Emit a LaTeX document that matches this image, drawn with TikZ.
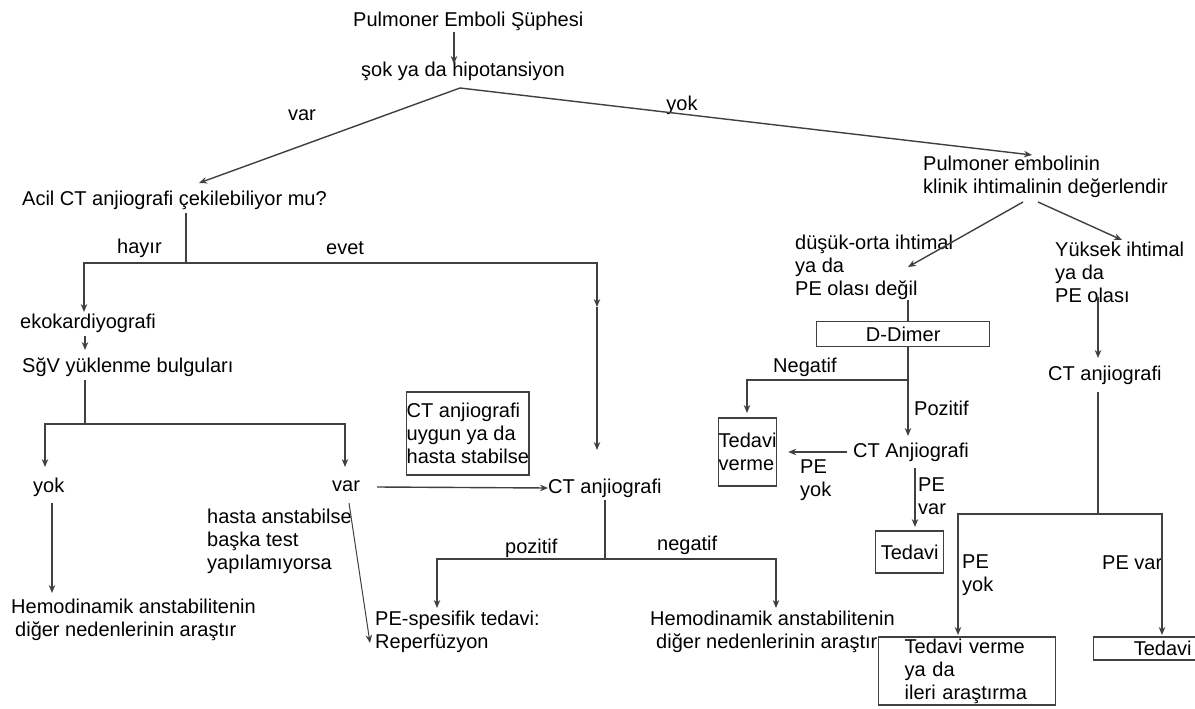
\documentclass[tikz,border=0pt]{standalone}
\usepackage{fontspec}
\setmainfont{Liberation Sans}
\usetikzlibrary{arrows.meta}

\begin{document}
\begin{tikzpicture}[x=1pt, y=-1pt,
    every node/.style={font=\fontsize{20}{23}\selectfont, inner sep=0pt, align=left},
    lbl/.style={anchor=west},
    boxnode/.style={draw=black!75, line width=1.4pt, anchor=west},
    conn/.style={line width=1.4pt, black!75},
    arr/.style={conn, -{Stealth[length=8pt, width=6.5pt]}}]
  \path[fill=white, use as bounding box] (0,0) rectangle (1195,709);

  % suspicion and shock
  \node[lbl] (susp) at (353,21) {Pulmoner Emboli Şüphesi};
  \node[lbl] (shock) at (361,71) {şok ya da hipotansiyon};
  \coordinate (split) at ([shift={(99,17)}]shock.west);
  \node (var) at (302,115) {var};
  \node (yok) at (682,105) {yok};

  % unstable side
  \node[lbl] (acil) at (22,200) {Acil CT anjiografi çekilebiliyor mu?};
  \node[lbl] (hayir) at (117,248) {hayır};
  \node[lbl] (evet) at (326,248) {evet};
  \node[lbl] (eko) at (20,323) {ekokardiyografi};
  \node[lbl] (sgv) at (22,367) {SğV yüklenme bulguları};
  \node[lbl] (sgvyok) at (33,487) {yok};
  \node[lbl] (sgvvar) at (332,486) {var};
  \node[lbl] (hemoL) at (11,620) {Hemodinamik anstabilitenin\\\hspace*{4pt}diğer nedenlerinin araştır};
  \node[lbl] (hasta) at (207,541) {hasta anstabilse\\başka test\\yapılamıyorsa};
  \node[boxnode, minimum width=121pt, minimum height=83pt] (stabil) at (406,433.5) {CT anjiografi\\uygun ya da\\hasta stabilse};
  \node[lbl] (ctmid) at (548,488) {CT anjiografi};
  \node[lbl] (poz) at (505,548) {pozitif};
  \node[lbl] (neg) at (657,545) {negatif};
  \node[lbl] (pespec) at (375,631.5) {PE-spesifik tedavi:\\Reperfüzyon};
  \node[lbl] (hemoR) at (650,632) {Hemodinamik anstabilitenin\\\hspace*{6pt}diğer nedenlerinin araştır};

  % stable side
  \node[lbl] (klinik) at (923,177) {Pulmoner embolinin\\klinik ihtimalinin değerlendir};
  \node[lbl] (dusuk) at (795,267) {düşük-orta ihtimal\\ya da\\PE olası değil};
  \node[lbl] (yuksek) at (1055,272) {Yüksek ihtimal\\ya da\\PE olası};
  \node[boxnode, minimum width=173pt, minimum height=25pt] (ddimer) at (816,334) {D-Dimer};
  \node[lbl] (negD) at (773,367) {Negatif};
  \node[lbl] (pozD) at (914,408) {Pozitif};
  \node[boxnode, minimum width=56pt, minimum height=68pt] (verme) at (718,452) {Tedavi\\verme};
  \node[lbl] (ctang) at (853,452) {CT Anjiografi};
  \node[lbl] (peyokA) at (800,480) {PE\\yok};
  \node[lbl] (pevarA) at (918,496) {PE\\var};
  \node[boxnode, minimum width=68pt, minimum height=42pt] (tedaviA) at (875,552) {Tedavi};
  \node[lbl] (ctyuk) at (1048,375) {CT anjiografi};
  \node[lbl] (peyokB) at (962,575) {PE\\yok};
  \node[lbl] (pevarB) at (1102,563) {PE var};
  \node[boxnode, text width=125pt, inner xsep=26pt, minimum height=68pt] (vermeB) at (878,671) {Tedavi verme\\ya da\\ileri araştırma};
  \node[boxnode, minimum width=138pt, minimum height=23pt] (tedaviB) at (1093,648.5) {Tedavi};

  % top arrows
  \draw[arr] ([shift={(101,11)}]susp.west) -- ([shift={(93,-7)}]shock.west);
  \draw[arr] (split) -- ([shift={(177,-17)}]acil.west);
  \draw[arr] (split) -- ([shift={(109,-22)}]klinik.west);

  % left tree
  \coordinate (acilsplit) at ([shift={(164,63)}]acil.west);
  \coordinate (evetmid) at ([shift={(49,-181)}]ctmid.west);
  \draw[conn] ([shift={(164,13)}]acil.west) -- (acilsplit);
  \draw[arr] (acilsplit) -| ([shift={(64,-11)}]eko.west);
  \draw[arr] (acilsplit) -| (evetmid);
  \draw[arr] (evetmid) -- ([shift={(49,-38)}]ctmid.west);
  \draw[arr] ([shift={(65,13)}]eko.west) -- ([shift={(63,-17)}]sgv.west);
  \coordinate (sgvsplit) at ([shift={(63,57)}]sgv.west);
  \draw[conn] ([shift={(63,13)}]sgv.west) -- (sgvsplit);
  \draw[arr] (sgvsplit) -| ([shift={(12,-20)}]sgvyok.west);
  \draw[arr] (sgvsplit) -| ([shift={(13,-19)}]sgvvar.west);
  \draw[arr] ([shift={(19,16)}]sgvyok.west) -- ([shift={(41,-27)}]hemoL.west);
  \draw[arr] ([shift={(45,1)}]sgvvar.west) -- (ctmid.west);
  \draw[arr, line width=1pt] ([shift={(17,17)}]sgvvar.west) -- ([shift={(-5,11.5)}]pespec.west);
  \coordinate (ctsplit) at ([shift={(57,71)}]ctmid.west);
  \draw[conn] ([shift={(57,12)}]ctmid.west) -- (ctsplit);
  \draw[arr] (ctsplit) -| ([shift={(62,-23.5)}]pespec.west);
  \draw[arr] (ctsplit) -| ([shift={(126,-24)}]hemoR.west);

  % right tree
  \draw[arr] ([shift={(100,25)}]klinik.west) -- ([shift={(113,0)}]dusuk.west);
  \draw[arr] ([shift={(115,25)}]klinik.west) -- ([shift={(67,-32)}]yuksek.west);
  \draw[conn] ([shift={(113,33)}]dusuk.west) -- ([shift={(92,-12.5)}]ddimer.west);
  \coordinate (dsplit) at ([shift={(92,46)}]ddimer.west);
  \draw[arr] ([shift={(92,12.5)}]ddimer.west) -- ([shift={(55,-16)}]ctang.west);
  \draw[arr] (dsplit) -| ([shift={(29,-39)}]verme.west);
  \draw[arr] ([shift={(-6,0)}]ctang.west) -- ([shift={(11,0)}]verme.east);
  \draw[arr] ([shift={(62,16)}]ctang.west) -- ([shift={(40,-25)}]tedaviA.west);
  \draw[arr] ([shift={(43,25)}]yuksek.west) -- ([shift={(50,-17)}]ctyuk.west);
  \coordinate (ysplit) at ([shift={(50,139)}]ctyuk.west);
  \draw[conn] ([shift={(50,17)}]ctyuk.west) -- (ysplit);
  \draw[arr] (ysplit) -| ([shift={(80,-36)}]vermeB.west);
  \draw[arr] (ysplit) -| ([shift={(69,-13.5)}]tedaviB.west);
\end{tikzpicture}
\end{document}
